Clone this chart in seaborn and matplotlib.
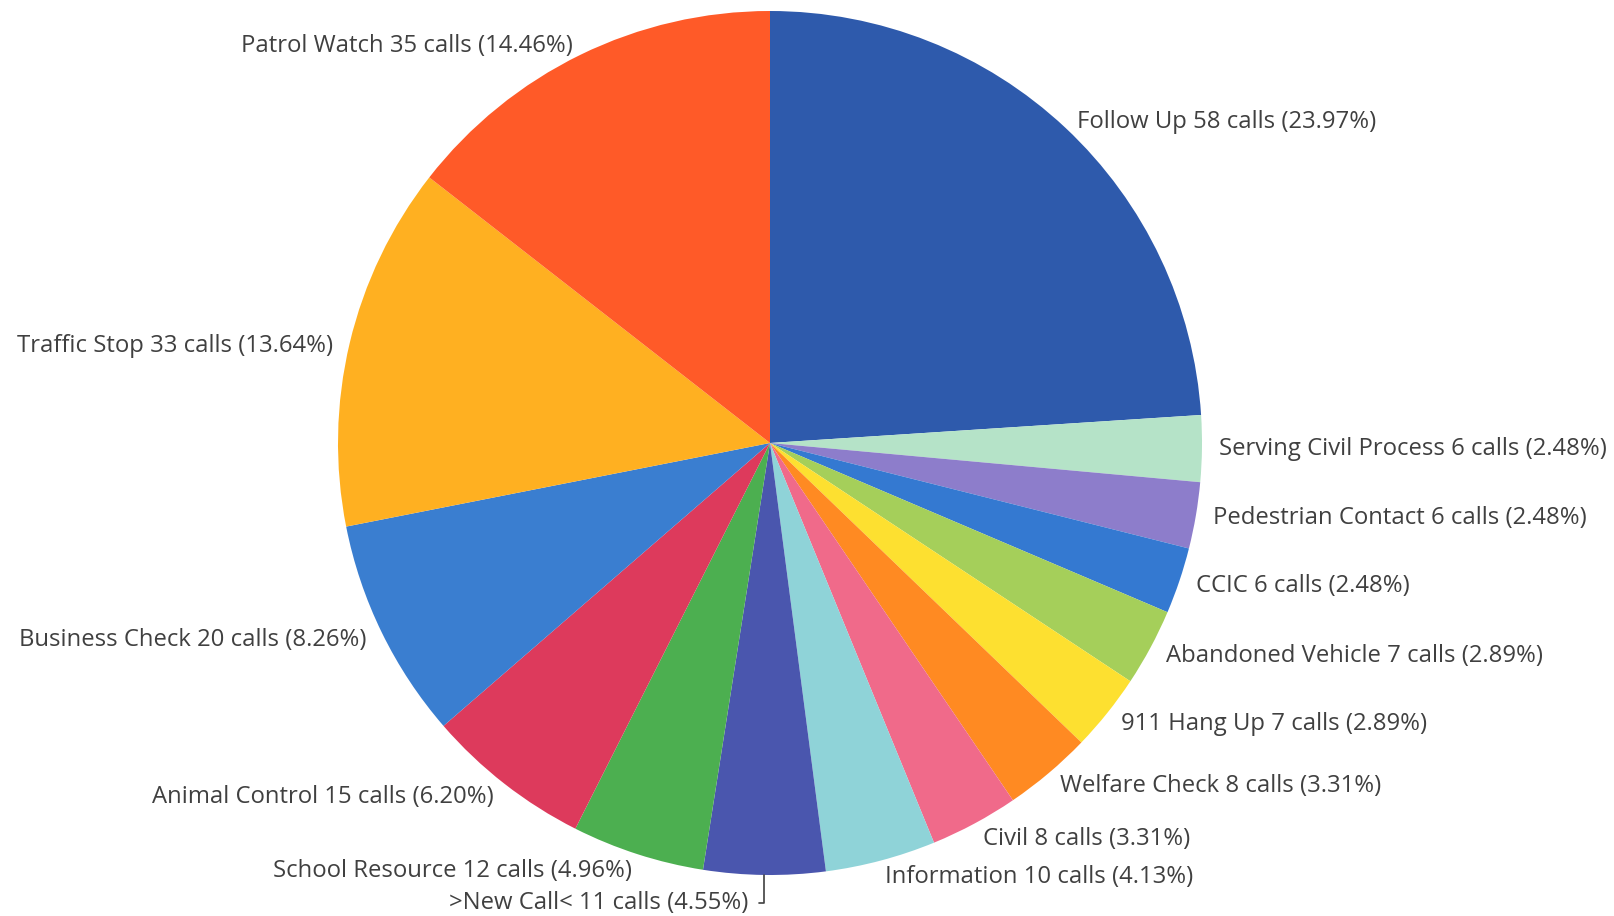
import numpy as np
import seaborn as sns
import matplotlib.pyplot as plt

# dados ---------------------------------------------------------------
categorias = ['Follow Up', 'Serving Civil Process', 'Pedestrian Contact', 'CCIC',
              'Abandoned Vehicle', '911 Hang Up', 'Welfare Check', 'Civil',
              'Information', '>New Call<', 'School Resource', 'Animal Control',
              'Business Check', 'Traffic Stop', 'Patrol Watch']
chamadas = [58, 6, 6, 6, 7, 7, 8, 8, 10, 11, 12, 15, 20, 33, 35]
cores = ['#2E5AAC', '#B5E3C8', '#8D7DCB', '#3479D1', '#A5CF5A', '#FDE030',
         '#FF8A22', '#F06A8A', '#8FD3D8', '#4A56AE', '#4CAF50', '#DD3A5C',
         '#3A7ED0', '#FFB021', '#FF5A28']

total = sum(chamadas)
rotulos = [f'{c} {n} calls ({n / total * 100:.2f}%)' for c, n in zip(categorias, chamadas)]

# grafico -------------------------------------------------------------
sns.set_theme(style='white')
plt.rcParams['font.family'] = ['Open Sans', 'DejaVu Sans']

W, H = 1614, 916
fig = plt.figure(figsize=(W / 100, H / 100), dpi=100)
ax = fig.add_axes([0, 0, 1, 1])
ax.set_xlim(0, W)
ax.set_ylim(0, H)
ax.set_aspect('equal')
ax.axis('off')

cx, cy, raio = 770, H - 443, 432
wedges, textos = ax.pie(chamadas, labels=rotulos, colors=sns.color_palette(cores),
                        startangle=90, counterclock=False, center=(cx, cy), radius=raio,
                        labeldistance=1.04, wedgeprops={'linewidth': 0},
                        textprops={'fontsize': 17.2, 'color': '#404040'})
ax.set_xlim(0, W)
ax.set_ylim(0, H)

# alinhamento pelo lado do centro da pizza; rotulos de cima um pouco mais baixos
for t in textos:
    x, y = t.get_position()
    t.set_ha('right' if x < cx else 'left')
    if y > cy + 60:
        t.set_position((x, y - 7))

# rotulo do >New Call< com linha guia
i = categorias.index('>New Call<')
w = wedges[i]
ang = np.deg2rad((w.theta1 + w.theta2) / 2)
bx, by = cx + raio * np.cos(ang), cy + raio * np.sin(ang)
ty = by - 28
ax.plot([bx, bx, bx - 5], [by, ty, ty], color='#404040', lw=1.2)
textos[i].set_position((bx - 16, ty))
textos[i].set_ha('right')

fig.savefig('out.png', dpi=100, facecolor='white')
